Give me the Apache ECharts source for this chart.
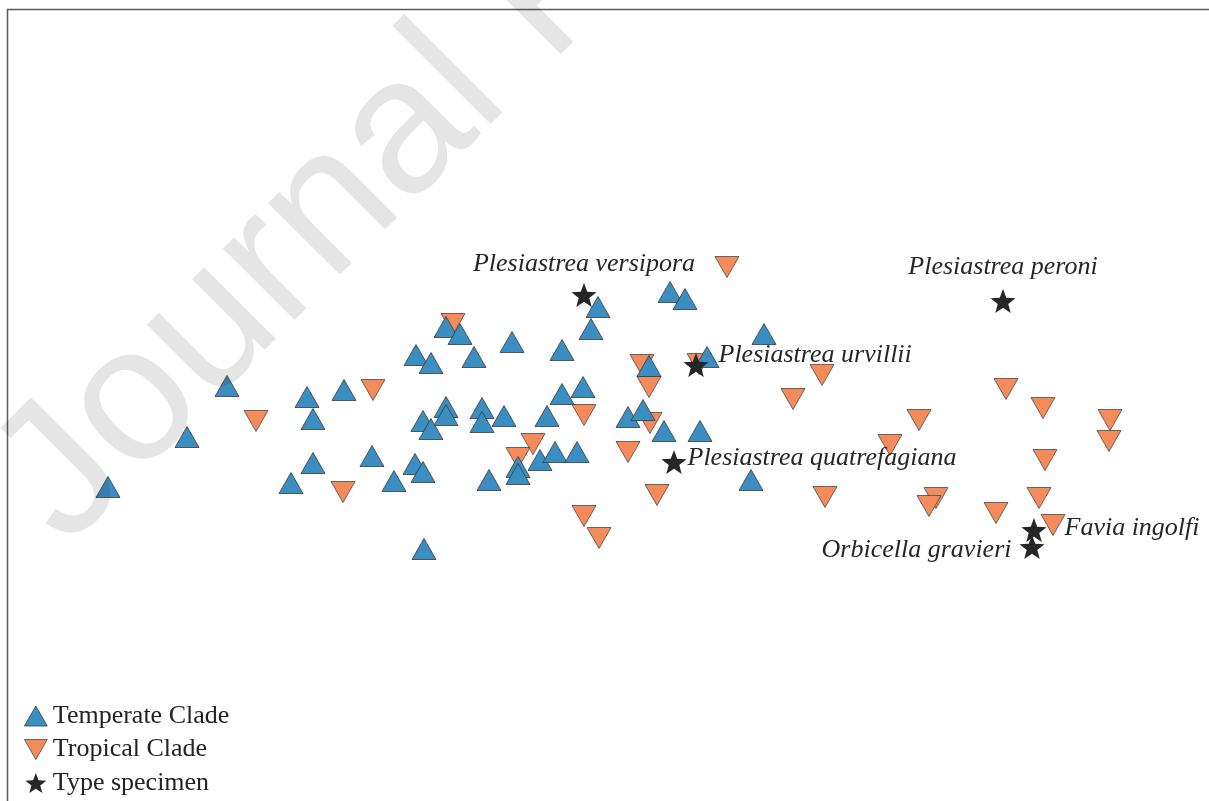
<!DOCTYPE html>
<html>
<head>
<meta charset="utf-8">
<script src="https://cdn.jsdelivr.net/npm/echarts@6/dist/echarts.min.js"></script>
<style>
html,body{margin:0;padding:0;background:#fff;}
#chart{width:1209px;height:801px;}
</style>
</head>
<body>
<div id="chart"></div>
<script>
const temperateClade = [
  [-4.92,-0.87],[-4.13,-0.37],[-3.73,0.14],[-2.93,0.03],[-2.87,-0.19],[-2.56,0.10],
  [-2.87,-0.63],[-3.09,-0.83],[-2.28,-0.56],[-2.06,-0.81],[-1.85,-0.64],[-1.77,-0.72],
  [-1.76,-1.49],[-1.84,0.45],[-1.69,0.37],[-1.54,0.73],[-1.40,0.66],[-1.26,0.43],
  [-1.77,-0.21],[-1.69,-0.29],[-1.54,-0.07],[-1.54,-0.15],[-1.18,-0.08],[-1.18,-0.22],
  [-0.96,-0.16],[-0.88,0.58],[-1.11,-0.80],[-0.53,-0.16],[-0.38,0.06],[-0.38,0.50],
  [-0.17,0.13],[-0.02,0.93],[-0.09,0.71],[0.70,1.08],[0.85,1.01],[1.64,0.66],
  [1.07,0.43],[0.49,0.34],[0.28,-0.17],[0.43,-0.10],[0.64,-0.31],[1.00,-0.31],
  [1.51,-0.80],[-0.82,-0.67],[-0.82,-0.74],[-0.60,-0.60],[-0.45,-0.52],[-0.23,-0.52]
];
const tropicalClade = [
  [-3.44,-0.21],[-2.27,0.10],[-2.57,-0.92],[-1.47,0.76],[-0.67,-0.44],[-0.82,-0.58],
  [-0.16,-0.15],[-0.16,-1.16],[-0.01,-1.38],[0.28,-0.52],[0.57,-0.95],[0.42,0.35],
  [0.49,0.13],[0.50,-0.23],[0.99,0.36],[1.27,1.33],[2.22,0.25],[1.93,0.01],
  [4.06,0.11],[4.43,-0.08],[5.10,-0.20],[5.09,-0.41],[3.19,-0.20],[2.90,-0.45],
  [4.45,-0.60],[2.25,-0.97],[3.36,-0.98],[3.29,-1.06],[3.96,-1.13],[4.39,-0.98],
  [4.53,-1.25]
];
const specimenNames = [
  'Plesiastrea versipora','Plesiastrea urvillii','Plesiastrea quatrefagiana',
  'Plesiastrea peroni','Favia ingolfi','Orbicella gravieri'
];
const specimenX = [-0.16, 0.96, 0.74, 4.03, 4.34, 4.32];
const specimenY = [1.05, 0.35, -0.62, 0.99, -1.30, -1.47];
const legendNames = ['Temperate Clade','Tropical Clade','Type specimen'];

const labelPlacement = [
  {position:'top', distance:6, offset:[0,0]},
  {position:'right', distance:10, offset:[0,-10]},
  {position:'right', distance:1, offset:[0,-4]},
  {position:'top', distance:9, offset:[0,0]},
  {position:'right', distance:18, offset:[0,-2]},
  {position:'left', distance:8, offset:[0,3]}
];

const UP = 'path://M1,0 L2,1.75 L0,1.75 Z';
const DOWN = 'path://M0,0 L2,0 L1,1.75 Z';
const STAR = 'path://M0,-1 L0.247,-0.34 L0.951,-0.309 L0.4,0.13 L0.588,0.809 L0,0.42 L-0.588,0.809 L-0.4,0.13 L-0.951,-0.309 L-0.247,-0.34 Z';

const serif = '"Liberation Serif","Times New Roman",serif';

const specimenData = specimenNames.map((n, i) => ({
  name: n,
  value: [specimenX[i], specimenY[i]],
  label: {
    show: true,
    formatter: n,
    position: labelPlacement[i].position,
    distance: labelPlacement[i].distance,
    offset: labelPlacement[i].offset,
    fontFamily: serif,
    fontStyle: 'italic',
    fontSize: 26,
    lineHeight: 26,
    color: '#262626'
  }
}));

const chart = echarts.init(document.getElementById('chart'), null, {renderer:'canvas'});
chart.setOption({
  animation: false,
  backgroundColor: '#fff',
  grid: {left:0, right:0, top:0, bottom:0},
  xAxis: {type:'value', min:-6.00, max:6.09, show:false},
  yAxis: {type:'value', min:-4.01, max:4.00, show:false},
  legend: {
    orient: 'vertical',
    left: 24,
    top: 703,
    padding: 0,
    itemWidth: 24,
    itemHeight: 20,
    itemGap: 7.5,
    itemStyle: {borderWidth: 0.8},
    textStyle: {fontFamily: serif, fontSize: 26, lineHeight: 26, color:'#222'},
    data: legendNames
  },
  graphic: [
    {type:'rect', silent:true, z:50,
     shape:{x:7.5, y:9.5, width:1400, height:1000},
     style:{fill:'none', stroke:'#5a5a5a', lineWidth:1.5}},
    {type:'text', silent:true, z:100,
     x:29, y:511, rotation: 45*Math.PI/180,
     style:{text:'Journal Pre-proof', font:'192px "Liberation Sans", Arial, sans-serif',
            fill:'rgba(0,0,0,0.1)', align:'left', verticalAlign:'middle'}}
  ],
  series: [
    {
      name: legendNames[1], type:'scatter', symbol: DOWN, symbolSize:[24,21],
      itemStyle:{color:'#f58a5b', borderColor:'#4a4a4a', borderWidth:0.8, opacity:1},
      data: tropicalClade, z:2
    },
    {
      name: legendNames[0], type:'scatter', symbol: UP, symbolSize:[24,21],
      itemStyle:{color:'#3a8ec2', borderColor:'#3a3a3a', borderWidth:0.8, opacity:1},
      data: temperateClade, z:3
    },
    {
      name: legendNames[2], type:'scatter', symbol: STAR, symbolSize:[25,24],
      itemStyle:{color:'#262626', opacity:1},
      data: specimenData, z:4
    }
  ]
});
</script>
</body>
</html>
